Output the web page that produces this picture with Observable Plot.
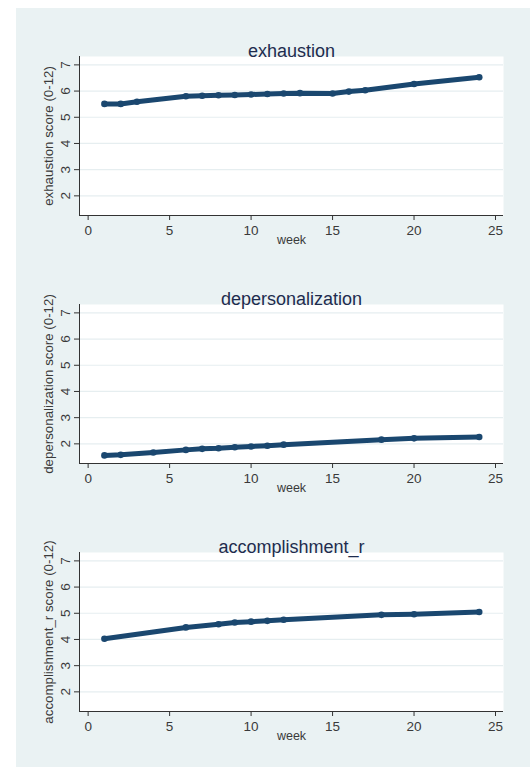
<!DOCTYPE html>
<html>
<head>
<meta charset="utf-8">
<script src="https://cdn.jsdelivr.net/npm/d3@7"></script>
<script src="https://cdn.jsdelivr.net/npm/@observablehq/plot@0.6"></script>
<style>
  html, body { margin: 0; padding: 0; background: #ffffff; }
  body { width: 530px; height: 767px; position: relative; overflow: hidden; font-family: "Liberation Sans", Arial, sans-serif; }
  #bg { position: absolute; left: 16px; top: 8px; right: 0; bottom: 0; background: #eaf2f3; }
  .panel { position: absolute; left: 0; }
</style>
</head>
<body>
<div id="bg"></div>
<div id="p1" class="panel" style="top:0px"></div>
<div id="p2" class="panel" style="top:248px"></div>
<div id="p3" class="panel" style="top:496px"></div>
<script>
// ---- data ----
const titles = ["exhaustion", "depersonalization", "accomplishment_r"];
const yLabels = ["exhaustion score (0-12)", "depersonalization score (0-12)", "accomplishment_r score (0-12)"];

const exhaustionWeeks = [1, 2, 3, 6, 7, 8, 9, 10, 11, 12, 13, 15, 16, 17, 20, 24];
const exhaustionScores = [5.51, 5.51, 5.59, 5.80, 5.82, 5.84, 5.85, 5.87, 5.89, 5.91, 5.92, 5.91, 5.98, 6.03, 6.27, 6.53];

const depersWeeks = [1, 2, 4, 6, 7, 8, 9, 10, 11, 12, 18, 20, 24];
const depersScores = [1.56, 1.58, 1.67, 1.77, 1.81, 1.83, 1.87, 1.90, 1.93, 1.97, 2.16, 2.21, 2.26];

const accompWeeks = [1, 6, 8, 9, 10, 11, 12, 18, 20, 24];
const accompScores = [4.03, 4.46, 4.58, 4.65, 4.68, 4.71, 4.75, 4.94, 4.96, 5.05];

const xTicks = [0, 5, 10, 15, 20, 25];
const yTicks = [2, 3, 4, 5, 6, 7];
const xDomain = [-0.53, 25.49];
const yDomain = [1.25, 7.32];

const navy = "#1a476f";
const font = "'Liberation Sans', Arial, sans-serif";

function panel(title, yLabel, weeks, scores) {
  const data = weeks.map((w, i) => ({week: w, score: scores[i]}));
  return Plot.plot({
    width: 530,
    height: 248,
    marginLeft: 79,
    marginRight: 27,
    marginTop: 56,
    marginBottom: 33,
    style: {background: "transparent", fontFamily: font, overflow: "visible", color: "#3a3a3a", fontSize: "13.5px"},
    x: {domain: xDomain},
    y: {domain: yDomain},
    marks: [
      Plot.frame({fill: "white", stroke: "none"}),
      Plot.gridY(yTicks, {stroke: "#e6eef0", strokeOpacity: 1, strokeWidth: 1.2}),
      Plot.ruleX([xDomain[0]], {stroke: "#333"}),
      Plot.ruleY([yDomain[0]], {stroke: "#333"}),
      Plot.axisX(xTicks, {tickSize: 5, tickPadding: 5, fontSize: 13.5, label: null, stroke: "#333", fill: "#3a3a3a"}),
      Plot.axisY(yTicks, {tickSize: 5, tickPadding: 5, tickRotate: -90, fontSize: 13.5, label: null, stroke: "#333", fill: "#3a3a3a"}),
      Plot.text(["week"], {frameAnchor: "bottom", dy: 28, fontSize: 12.5, fill: "#3a3a3a"}),
      Plot.text([yLabel], {frameAnchor: "left", textAnchor: "middle", rotate: -90, dx: -31, fontSize: 13.3, fill: "#3a3a3a"}),
      Plot.text([title], {frameAnchor: "top", dy: -12, fontSize: 18, fill: "#1e2c4e"}),
      Plot.line(data, {x: "week", y: "score", stroke: navy, strokeWidth: 5, strokeLinecap: "round", strokeLinejoin: "round"}),
      Plot.dot(data, {x: "week", y: "score", r: 3.3, fill: navy, stroke: null})
    ]
  });
}

document.getElementById("p1").appendChild(panel(titles[0], yLabels[0], exhaustionWeeks, exhaustionScores));
document.getElementById("p2").appendChild(panel(titles[1], yLabels[1], depersWeeks, depersScores));
document.getElementById("p3").appendChild(panel(titles[2], yLabels[2], accompWeeks, accompScores));
</script>
</body>
</html>
